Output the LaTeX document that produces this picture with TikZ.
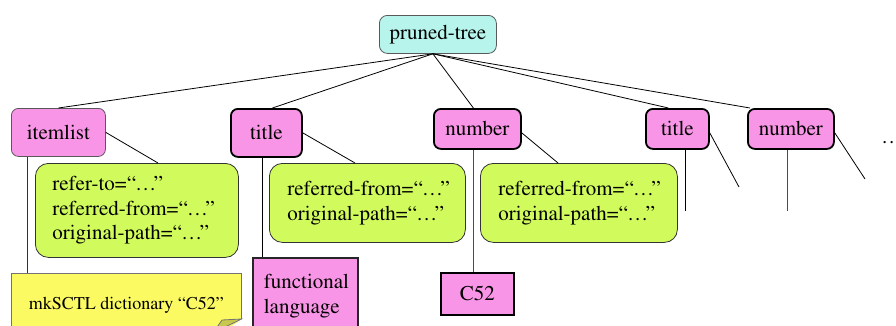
\documentclass[tikz,border=0pt]{standalone}
\usepackage[T1]{fontenc}
\usepackage{times}
\usetikzlibrary{calc}
\definecolor{rootcyan}{HTML}{B7F5EC}
\definecolor{elempink}{HTML}{F995E6}
\definecolor{attrgreen}{HTML}{D1FB5D}
\definecolor{noteyellow}{HTML}{FBFA63}
\definecolor{notefold}{HTML}{C9C84E}
% tight three-dot ellipsis and curly-quoted value
\newcommand{\tdots}{.\kern0.083em.\kern0.083em.}
\newcommand{\dq}[1]{``#1''}
\begin{document}
\begin{tikzpicture}[x=1pt,y=-1pt,
  base/.style={inner sep=0pt, anchor=north west, font=\rmfamily\fontsize{21}{24.5}\selectfont},
  root/.style={base, draw=black!65, line width=0.8pt, fill=rootcyan, rounded corners=8pt},
  elem/.style={base, draw=black!65, line width=0.8pt, fill=elempink, rounded corners=7pt},
  elemb/.style={elem, draw=black, line width=1.8pt},
  attr/.style={base, draw=black!80, line width=0.8pt, fill=attrgreen, rounded corners=13pt,
    align=left, inner xsep=2pt},
  leaf/.style={base, draw=black!85, line width=1.8pt, fill=elempink},
  note/.style={base, draw=black!55, line width=0.8pt, fill=noteyellow,
    font=\rmfamily\fontsize{18}{21}\selectfont},
  edge/.style={line width=0.8pt, draw=black}
]
\clip (0,0) rectangle (896,325);

% root of the pruned tree
\node[root, minimum width=117pt, minimum height=38pt] (pt) at (379,15) {pruned-tree};

% element nodes
\node[elem,  minimum width=94pt, minimum height=48pt] (il)  at (11,108)  {itemlist};
\node[elemb, minimum width=71pt, minimum height=48pt] (ti)  at (230,108) {title};
\node[elemb, minimum width=87pt, minimum height=40pt] (nu)  at (433,108) {number};
\node[elemb, minimum width=63pt, minimum height=40pt] (ti2) at (645,108) {title};
\node[elemb, minimum width=86pt, minimum height=40pt] (nu2) at (747,108) {number};
\node[base, anchor=base west] (more) at (882,143) {\tdots};

% attribute balloons (text starts about 17pt inside the left edge)
\node[attr, text width=199pt, minimum height=94pt] (a1) at (35,163)
  {\hspace*{15pt}refer-to=\dq{\tdots}\\\hspace*{15pt}referred-from=\dq{\tdots}\\\hspace*{15pt}original-path=\dq{\tdots}};
\node[attr, text width=192pt, minimum height=79pt] (a2) at (269,163)
  {\hspace*{16pt}referred-from=\dq{\tdots}\\\hspace*{16pt}original-path=\dq{\tdots}};
\node[attr, text width=193pt, minimum height=79pt] (a3) at (480,163)
  {\hspace*{16pt}referred-from=\dq{\tdots}\\\hspace*{16pt}original-path=\dq{\tdots}};

% leaves
\node[note, minimum width=230pt, minimum height=64pt] (dict) at (11,273)
  {mkSCTL dictionary \dq{C52}};
\fill[white] (242,319) -- (250,319) -- (250,340) -- (212,340) -- cycle;
\draw[line width=0.8pt, draw=black!55, fill=notefold]
  (241.5,319) -- (222,320) -- (213,333) -- cycle;
\node[leaf, minimum width=105pt, minimum height=76pt, text width=101pt, align=left,
  inner xsep=2pt] (fl) at (252,257) {\hspace*{9pt}functional\\\hspace*{9pt}language};
\node[leaf, draw=black, minimum width=73pt, minimum height=42pt] (c52) at (440,272) {C52};

% edges from the root
\coordinate (hub) at ($(pt.south)+(-5,0)$);
\draw[edge] (hub) -- (il.north);
\draw[edge] (hub) -- ([xshift=6pt]ti.north);
\draw[edge] (hub) -- ([xshift=-4pt]nu.north);
\draw[edge] (hub) -- ([xshift=-9pt]ti2.north);
\draw[edge] (hub) -- ([xshift=3pt]nu2.north west);

% edges to the attribute balloons
\draw[edge] (il.east) -- ([xshift=123pt]a1.north west);
\draw[edge] (ti.east) -- ([xshift=86pt]a2.north west);
\draw[edge] ([yshift=-4pt]nu.east) -- ([xshift=78pt]a3.north west);
\coordinate (t2a) at (739,187);
\coordinate (n2a) at (865,179);
\draw[edge] ([yshift=-4pt]ti2.east) -- (t2a);
\draw[edge] ([yshift=-4pt]nu2.east) -- (n2a);

% edges to the content leaves
\draw[edge, draw=black!80] ([xshift=16pt]il.south west) -- ([xshift=16pt]il.south west |- dict.north);
\draw[edge] ([xshift=32pt]ti.south west) -- ([xshift=32pt]ti.south west |- fl.north);
\draw[edge, draw=black!70] ([xshift=40pt]nu.south west) -- ([xshift=40pt]nu.south west |- c52.north);
\coordinate (t2c) at (685,211);
\coordinate (n2c) at (787,211);
\draw[edge] ([xshift=40pt]ti2.south west) -- (t2c);
\draw[edge, draw=black!70] ([xshift=40pt]nu2.south west) -- (n2c);
\end{tikzpicture}
\end{document}
